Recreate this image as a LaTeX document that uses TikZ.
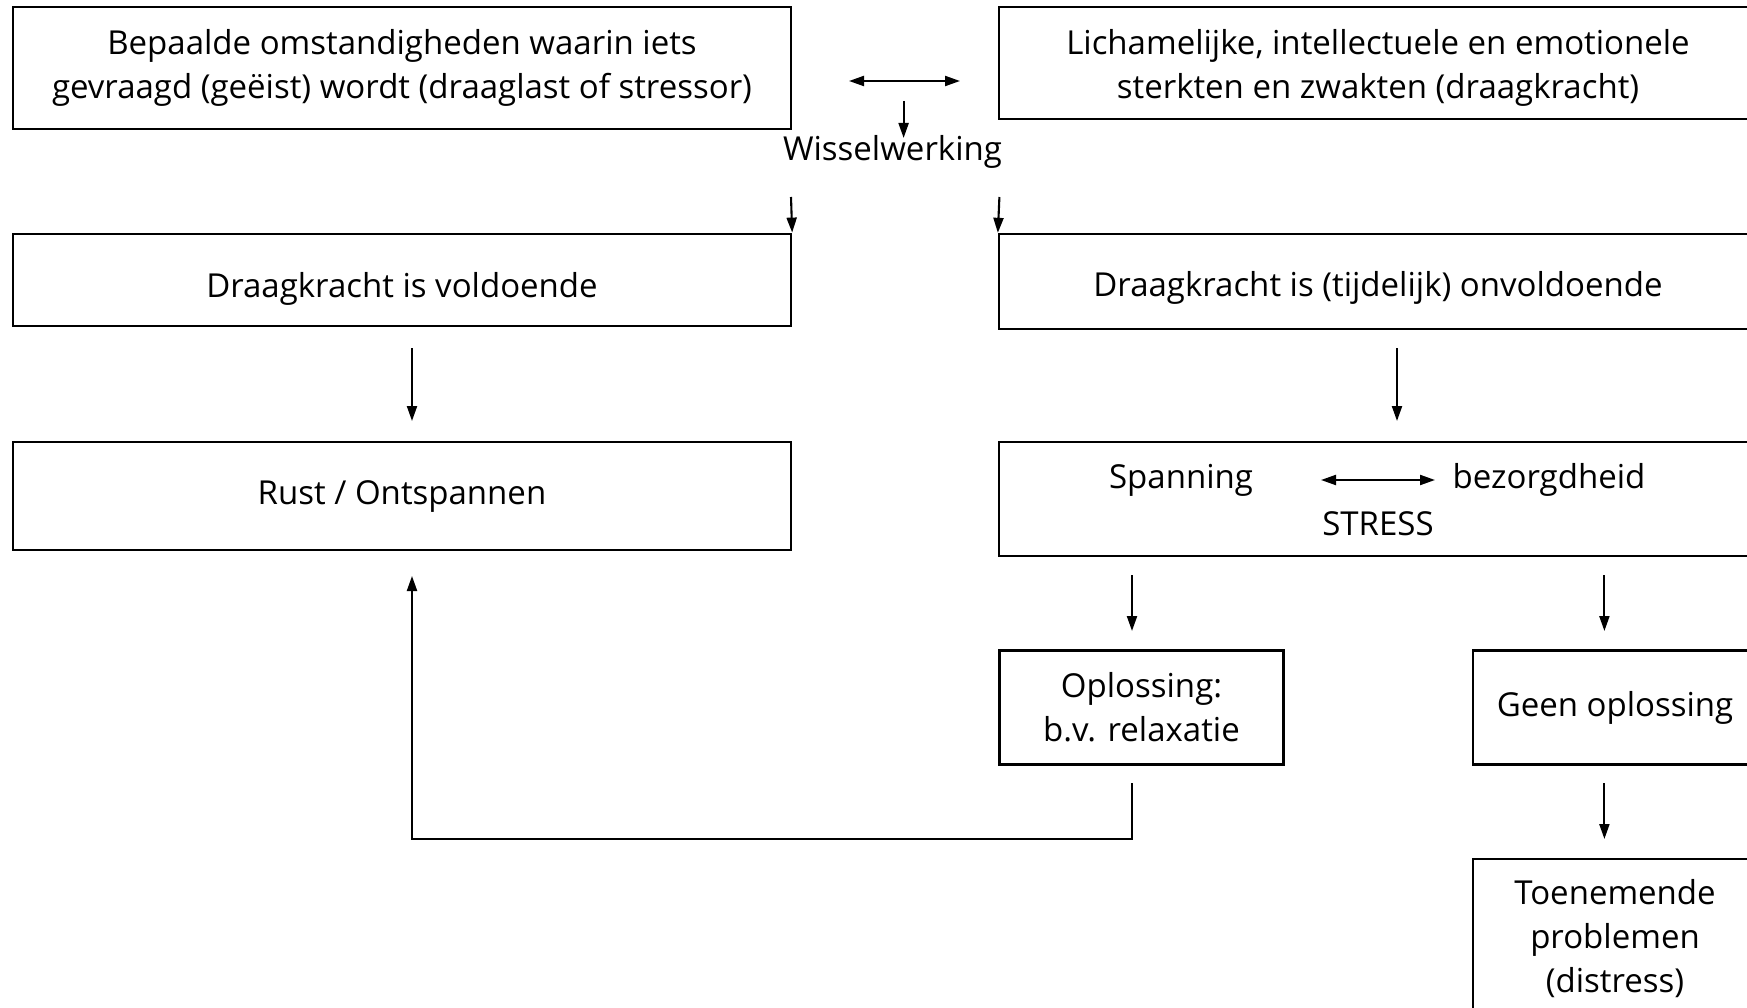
\documentclass[tikz,border=0pt]{standalone}
\usepackage{fontspec}
\setmainfont{Open Sans}
\usetikzlibrary{arrows.meta}
\begin{document}
\begin{tikzpicture}[x=1pt,y=-1pt,
  box/.style={draw, line width=2.3pt, inner sep=2pt, align=center, font=\fontsize{33}{44}\selectfont},
  txt/.style={inner sep=0pt, align=center, font=\fontsize{33}{44}\selectfont},
  arr/.style={-{Triangle[length=15pt,width=10pt]}, line width=2.1pt},
  darr/.style={{Triangle[length=15pt,width=10pt]}-{Triangle[length=15pt,width=10pt]}, line width=2.1pt}]
\path[use as bounding box, clip] (0,0) rectangle (1747,1008);
\fill[white] (0,0) rectangle (1747,1008);

\node[box, minimum width=778pt, minimum height=122pt] (A) at (402,68) {Bepaalde omstandigheden waarin iets\\gevraagd (geëist) wordt (draaglast of stressor)};
\node[box, minimum width=758pt, minimum height=112pt] (B) at (1378,63) {};
\node[txt] (Bt) at (1378,67.5) {Lichamelijke, intellectuele en emotionele\\sterkten en zwakten (draagkracht)};
\node[txt] (W) at (892.5,152) {Wisselwerking};
\node[box, minimum width=778pt, minimum height=92.5pt] (C) at (402,280) {};
\node[txt] (Ct) at (402,289) {Draagkracht is voldoende};
\node[box, minimum width=758pt, minimum height=95pt] (D) at (1378,281.5) {};
\node[txt] (Dt) at (1378,288) {Draagkracht is (tijdelijk) onvoldoende};
\node[box, minimum width=778pt, minimum height=108pt] (E) at (402,496) {Rust / Ontspannen};
\node[box, minimum width=758pt, minimum height=114pt] (F) at (1378,499) {};
\node[txt] (sp) at (1181,480) {Spanning};
\node[txt] (bz) at (1549,480) {bezorgdheid};
\node[txt] (st) at (1378,524) {STRESS};
\node[box, minimum width=284pt, minimum height=114pt] (G) at (1141.5,707.5) {Oplossing:\\b.v. relaxatie};
\node[box, minimum width=284pt, minimum height=114pt] (H) at (1615,707.5) {Geen oplossing};
\node[box, minimum width=284pt, minimum height=160pt] (I) at (1615,939) {Toenemende\\problemen\\(distress)};

% connectors
\coordinate (ab1) at (849,81);
\coordinate (ab2) at (960,81);
\draw[darr] (ab1) -- (ab2);
\coordinate (w0) at (903.6,101);
\coordinate (w1) at (903.6,138);
\draw[arr] (w0) -- (w1);
\coordinate (c0) at (791,197);
\draw[arr] (c0) -- (C.north east);
\coordinate (d0) at (999.4,197);
\draw[arr] (d0) -- (D.north west);
\coordinate (ce1) at (412,348);
\coordinate (ce2) at (412,421);
\draw[arr] (ce1) -- (ce2);
\coordinate (df1) at (1397,348);
\coordinate (df2) at (1397,421);
\draw[arr] (df1) -- (df2);
\coordinate (sb1) at (1321,480);
\coordinate (sb2) at (1435,480);
\draw[darr] (sb1) -- (sb2);
\coordinate (fg1) at (1132,575);
\coordinate (fg2) at (1132,631);
\draw[arr] (fg1) -- (fg2);
\coordinate (fh1) at (1604.4,575);
\coordinate (fh2) at (1604.4,631);
\draw[arr] (fh1) -- (fh2);
\coordinate (ge1) at (1132,783);
\coordinate (ge2) at (412,839);
\coordinate (ge3) at (412,576);
\draw[arr] (ge1) |- (ge2) -- (ge3);
\coordinate (hi1) at (1604.4,783);
\coordinate (hi2) at (1604.4,839);
\draw[arr] (hi1) -- (hi2);
\end{tikzpicture}
\end{document}
